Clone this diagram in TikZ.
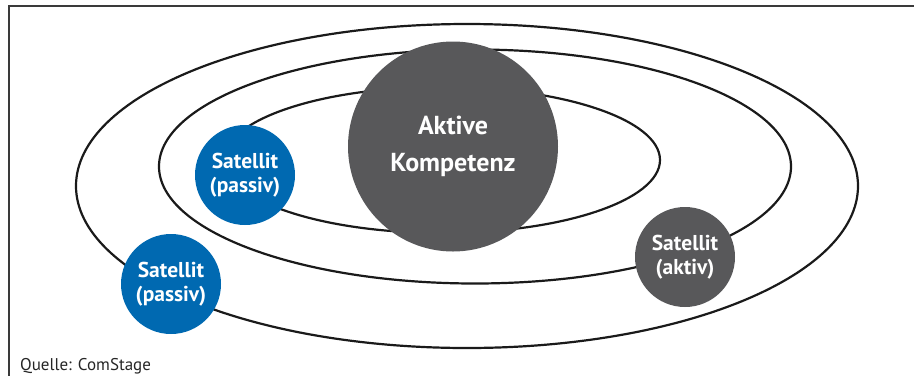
\documentclass[tikz,border=0pt]{standalone}
\usepackage{fontspec}
\setmainfont{PT Sans}
\definecolor{orbitline}{HTML}{1A1A1A}
\definecolor{framegray}{HTML}{3A3A3A}
\definecolor{satblue}{HTML}{0069B1}
\definecolor{coregray}{HTML}{58585A}
\tikzset{
  orbit/.style={draw=orbitline, line width=2.2pt},
  body/.style={circle, inner sep=0pt, text=white, font=\bfseries, align=center},
  core/.style={body, fill=coregray, minimum size=210pt, font=\fontsize{26}{37}\selectfont\bfseries},
  satellite/.style={body, minimum size=100pt, font=\fontsize{21.5}{23.5}\selectfont\bfseries},
  passive/.style={satellite, fill=satblue},
  active/.style={satellite, fill=coregray},
}
\begin{document}
\begin{tikzpicture}[x=1pt, y=-1pt]
  \useasboundingbox (0,0) rectangle (914,376);
  % frame (open at the right and bottom)
  \draw[framegray, line width=1.3pt] (914,6) -- (9,6) -- (9,376);
  % orbits
  \draw[orbit] (467,186) ellipse [x radius=391, y radius=162];
  \draw[orbit] (475,166.5) ellipse [x radius=316, y radius=117];
  \draw[orbit] (442,160) ellipse [x radius=218, y radius=73];
  % bodies
  \node[core] (core) at (453,146.5) {Aktive\\Kompetenz};
  \node[passive] (inner) at (245,175) {Satellit\\(passiv)};
  \node[passive] (outer) at (171,284) {Satellit\\(passiv)};
  \node[active] (active) at (685,257) {Satellit\\(aktiv)};
  % source line
  \node[anchor=base west, inner sep=0pt, text=black!85, font=\fontsize{17}{20}\selectfont] (src) at (20,370.5) {Quelle: ComStage};
\end{tikzpicture}
\end{document}
